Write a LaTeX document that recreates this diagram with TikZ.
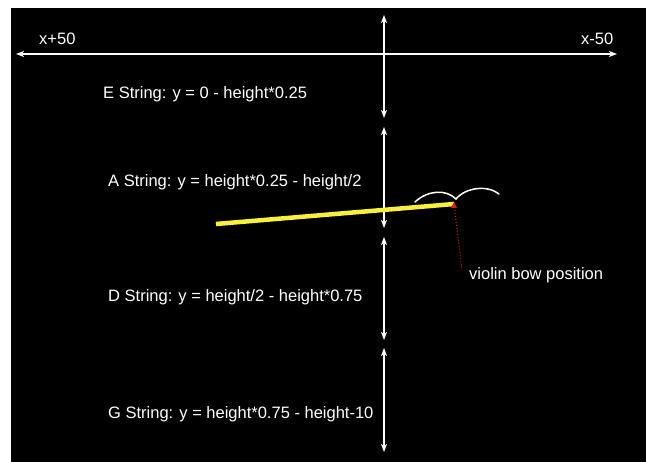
\documentclass[tikz,border=0pt]{standalone}
\usepackage{fontspec}
\setmainfont{Liberation Sans}
\usetikzlibrary{arrows.meta}
\definecolor{bowyellow}{RGB}{250,240,60}
\definecolor{markred}{RGB}{220,30,20}
\tikzset{
  axisline/.style={white, line width=1.4pt,
    {Stealth[length=8pt,width=6pt,inset=2pt]}-{Stealth[length=8pt,width=6pt,inset=2pt]}},
  strtext/.style={anchor=base west, text=white, inner sep=0pt},
  hair/.style={white, line width=1.5pt, line cap=round}
}
\begin{document}
\begin{tikzpicture}[x=1pt, y=-1pt, font=\fontsize{16.5}{20}\selectfont]
  \useasboundingbox (0,0) rectangle (646,462);
  \fill[white] (-5,-5) rectangle (660,475);
  \fill[black] (11,8) rectangle (660,475);
  % horizontal axis: x+50 ... x-50
  \coordinate (hl) at (16,54);
  \coordinate (hr) at (617,54);
  \draw[axisline] (hl) -- (hr);
  \node[strtext] (xplus) at (39,45) {x+50};
  \node[strtext] (xminus) at (581,45) {x-50};
  % vertical string bands
  \coordinate (v0) at (384,15);   \coordinate (v1) at (384,118);
  \coordinate (v2) at (384,127);  \coordinate (v3) at (384,228);
  \coordinate (v4) at (384,237);  \coordinate (v5) at (384,340);
  \coordinate (v6) at (384,348);  \coordinate (v7) at (384,452);
  \draw[axisline] (v0) -- (v1);
  \draw[axisline] (v2) -- (v3);
  \draw[axisline] (v4) -- (v5);
  \draw[axisline] (v6) -- (v7);
  \node[strtext] (estr) at (103,99)  {E String: y = 0 - height*0.25};
  \node[strtext] (astr) at (108,187) {A String: y = height*0.25 - height/2};
  \node[strtext] (dstr) at (108,302) {D String: y = height/2 - height*0.75};
  \node[strtext] (gstr) at (108,419) {G String: y = height*0.75 - height-10};
  % bow
  \coordinate (bowL) at (216,224);
  \coordinate (bowR) at (454,204);
  \draw[bowyellow, line width=4.5pt] (bowL) -- (bowR);
  \draw[hair] (415,202) .. controls (428,190) and (446,189) .. (456,199);
  \draw[hair] (456,199) .. controls (466,187) and (488,185) .. (499,194);
  \fill[markred] (451,208) -- (454,202) -- (457,208) -- cycle;
  \node[strtext] (bowpos) at (469,280) {violin bow position};
  \coordinate (bowtip) at (462,270);
  \draw[markred, dotted, line width=1pt] (bowR) -- (bowtip);
\end{tikzpicture}
\end{document}
